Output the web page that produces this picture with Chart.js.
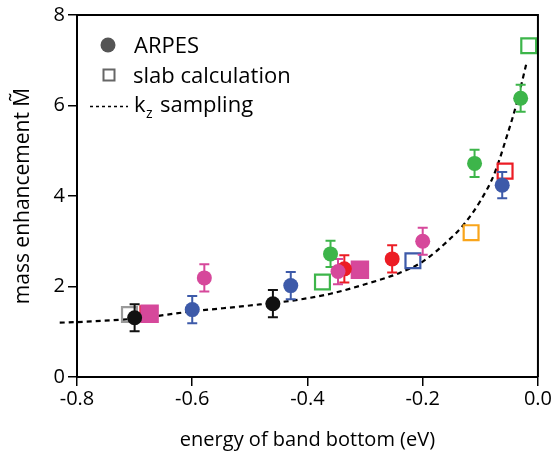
<!DOCTYPE html>
<html>
<head>
  <meta charset="UTF-8">
  <title>Mass enhancement vs band bottom</title>
  <script src="https://cdn.jsdelivr.net/npm/chart.js"></script>
  <style>
    body { margin: 0; background: #fff; }
    #wrap { width: 553px; height: 457px; }
  </style>
</head>
<body>
<div id="wrap"><canvas id="massChart"></canvas></div>
<script>
// ARPES (filled circles with error bars)
const arpesX   = [-0.700, -0.460, -0.600, -0.579, -0.429, -0.360, -0.336, -0.347, -0.253, -0.200, -0.110, -0.062, -0.030];
const arpesY   = [ 1.31,   1.62,   1.49,   2.19,   2.02,   2.72,   2.39,   2.33,   2.61,   3.00,   4.72,   4.24,   6.16];
const arpesErr = [ 0.30,   0.30,   0.30,   0.30,   0.30,   0.29,   0.30,   0.28,   0.30,   0.30,   0.30,   0.29,   0.30];
const arpesCol = ['black', 'black', 'blue', 'pink', 'blue', 'green', 'red', 'pink', 'red', 'pink', 'green', 'blue', 'green'];

// slab calculation (squares, open unless filled)
const slabX    = [-0.709, -0.677, -0.674, -0.374, -0.309, -0.217, -0.116, -0.057, -0.016];
const slabY    = [ 1.38,   1.40,   1.40,   2.10,   2.37,   2.57,   3.19,   4.55,   7.32];
const slabCol  = ['gray', 'red', 'pink', 'green', 'pink', 'blue', 'orange', 'red', 'green'];
const slabFill = [false, false, true, false, true, false, false, false, false];

// kz sampling curve
const kzX = [-0.83, -0.79, -0.70, -0.60, -0.50, -0.42, -0.36, -0.30, -0.24, -0.20, -0.157, -0.128, -0.100, -0.076, -0.053, -0.036, -0.020];
const kzY = [ 1.20,  1.22,  1.29,  1.45,  1.58,  1.70,  1.84,  2.05,  2.30,  2.55,  3.00,   3.38,   3.89,   4.48,   5.36,   6.09,   6.93];

const xTicks = [-0.8, -0.6, -0.4, -0.2, 0.0];
const yTicks = [0, 2, 4, 6, 8];

const colors = {
  black: '#111111', blue: '#3d5aa9', pink: '#d6489b', green: '#3db54a',
  red: '#ec1c24', orange: '#f9a51b', gray: '#9a9a9a'
};
const FONT = '"Open Sans", "Noto Sans", sans-serif';

const errorBars = {
  id: 'errorBars',
  beforeDatasetDraw(chart, args) {
    if (args.index !== 0) return;
    const ctx = chart.ctx, xs = chart.scales.x, ys = chart.scales.y;
    ctx.save();
    ctx.lineWidth = 2;
    arpesX.forEach((x, i) => {
      const px = xs.getPixelForValue(x);
      const top = ys.getPixelForValue(arpesY[i] + arpesErr[i]);
      const bot = ys.getPixelForValue(arpesY[i] - arpesErr[i]);
      ctx.strokeStyle = colors[arpesCol[i]];
      ctx.beginPath();
      ctx.moveTo(px, top); ctx.lineTo(px, bot);
      ctx.moveTo(px - 5, top); ctx.lineTo(px + 5, top);
      ctx.moveTo(px - 5, bot); ctx.lineTo(px + 5, bot);
      ctx.stroke();
    });
    ctx.restore();
  }
};

const frameAndLegend = {
  id: 'frameAndLegend',
  afterDraw(chart) {
    const ctx = chart.ctx, a = chart.chartArea;
    ctx.save();
    ctx.strokeStyle = '#000';
    ctx.lineWidth = 2;
    ctx.beginPath();
    ctx.moveTo(a.left, a.top); ctx.lineTo(a.right, a.top); ctx.lineTo(a.right, a.bottom);
    ctx.stroke();

    // legend
    ctx.fillStyle = '#555';
    ctx.beginPath(); ctx.arc(108, 45, 7.5, 0, Math.PI * 2); ctx.fill();
    ctx.strokeStyle = '#666'; ctx.lineWidth = 2;
    ctx.strokeRect(103.5, 69.5, 11, 11);
    ctx.strokeStyle = '#000'; ctx.lineWidth = 1.6; ctx.setLineDash([3, 3]);
    ctx.beginPath(); ctx.moveTo(90, 106.5); ctx.lineTo(128, 106.5); ctx.stroke();
    ctx.setLineDash([]);

    ctx.fillStyle = '#000';
    ctx.textBaseline = 'alphabetic';
    ctx.textAlign = 'left';
    ctx.font = '22px ' + FONT;
    ctx.fillText('ARPES', 134, 53);
    ctx.fillText('slab calculation', 133, 83);
    ctx.fillText('k', 134, 112);
    ctx.font = '14px ' + FONT;
    ctx.fillText('z', 146, 118);
    ctx.font = '22px ' + FONT;
    ctx.fillText('sampling', 160, 112);
    ctx.restore();
  }
};

const ctx = document.getElementById('massChart').getContext('2d');
new Chart(ctx, {
  type: 'scatter',
  data: {
    datasets: [
      {
        label: 'ARPES',
        data: arpesX.map((x, i) => ({ x: x, y: arpesY[i] })),
        pointStyle: 'circle',
        pointRadius: 7.5,
        pointBorderWidth: 0,
        pointBackgroundColor: arpesCol.map(c => colors[c]),
        pointBorderColor: arpesCol.map(c => colors[c])
      },
      {
        label: 'slab calculation',
        data: slabX.map((x, i) => ({ x: x, y: slabY[i] })),
        pointStyle: 'rect',
        pointRadius: slabFill.map(f => f ? 11.5 : 10.5),
        pointBorderWidth: 2.2,
        pointBackgroundColor: slabCol.map((c, i) => slabFill[i] ? colors[c] : 'rgba(0,0,0,0)'),
        pointBorderColor: slabCol.map(c => colors[c])
      },
      {
        label: 'kz sampling',
        data: kzX.map((x, i) => ({ x: x, y: kzY[i] })),
        showLine: true,
        borderColor: '#000',
        borderWidth: 2.2,
        borderDash: [5, 4],
        pointRadius: 0,
        cubicInterpolationMode: 'monotone',
        clip: false
      }
    ]
  },
  options: {
    responsive: true,
    maintainAspectRatio: false,
    animation: false,
    layout: { padding: { left: 0, right: 12, top: 13, bottom: 0 } },
    plugins: { legend: { display: false }, tooltip: { enabled: false } },
    scales: {
      x: {
        type: 'linear',
        min: -0.8, max: 0.0,
        afterBuildTicks: s => { s.ticks = xTicks.map(v => ({ value: v })); },
        afterFit: s => { s.height = 80; },
        grid: { display: true, drawOnChartArea: false, drawTicks: true, tickLength: 9, color: '#000', lineWidth: 1.5 },
        border: { display: true, color: '#000', width: 2 },
        ticks: { color: '#000', font: { family: FONT, size: 20 }, padding: 1, maxRotation: 0,
                 callback: v => v.toFixed(1) },
        title: { display: true, text: 'energy of band bottom (eV)', color: '#000',
                 font: { family: FONT, size: 20 }, padding: { top: 0, bottom: 5 } }
      },
      y: {
        type: 'linear',
        min: 0, max: 8,
        afterBuildTicks: s => { s.ticks = yTicks.map(v => ({ value: v })); },
        afterFit: s => { s.width = 77; },
        grid: { display: true, drawOnChartArea: false, drawTicks: true, tickLength: 9, color: '#000', lineWidth: 1.5 },
        border: { display: true, color: '#000', width: 2 },
        ticks: { color: '#000', font: { family: FONT, size: 20 }, padding: 3 },
        title: { display: true, text: 'mass enhancement M\u0303', color: '#000',
                 font: { family: FONT, size: 21 }, padding: { top: 10, bottom: 0 } }
      }
    }
  },
  plugins: [errorBars, frameAndLegend]
});
</script>
</body>
</html>
